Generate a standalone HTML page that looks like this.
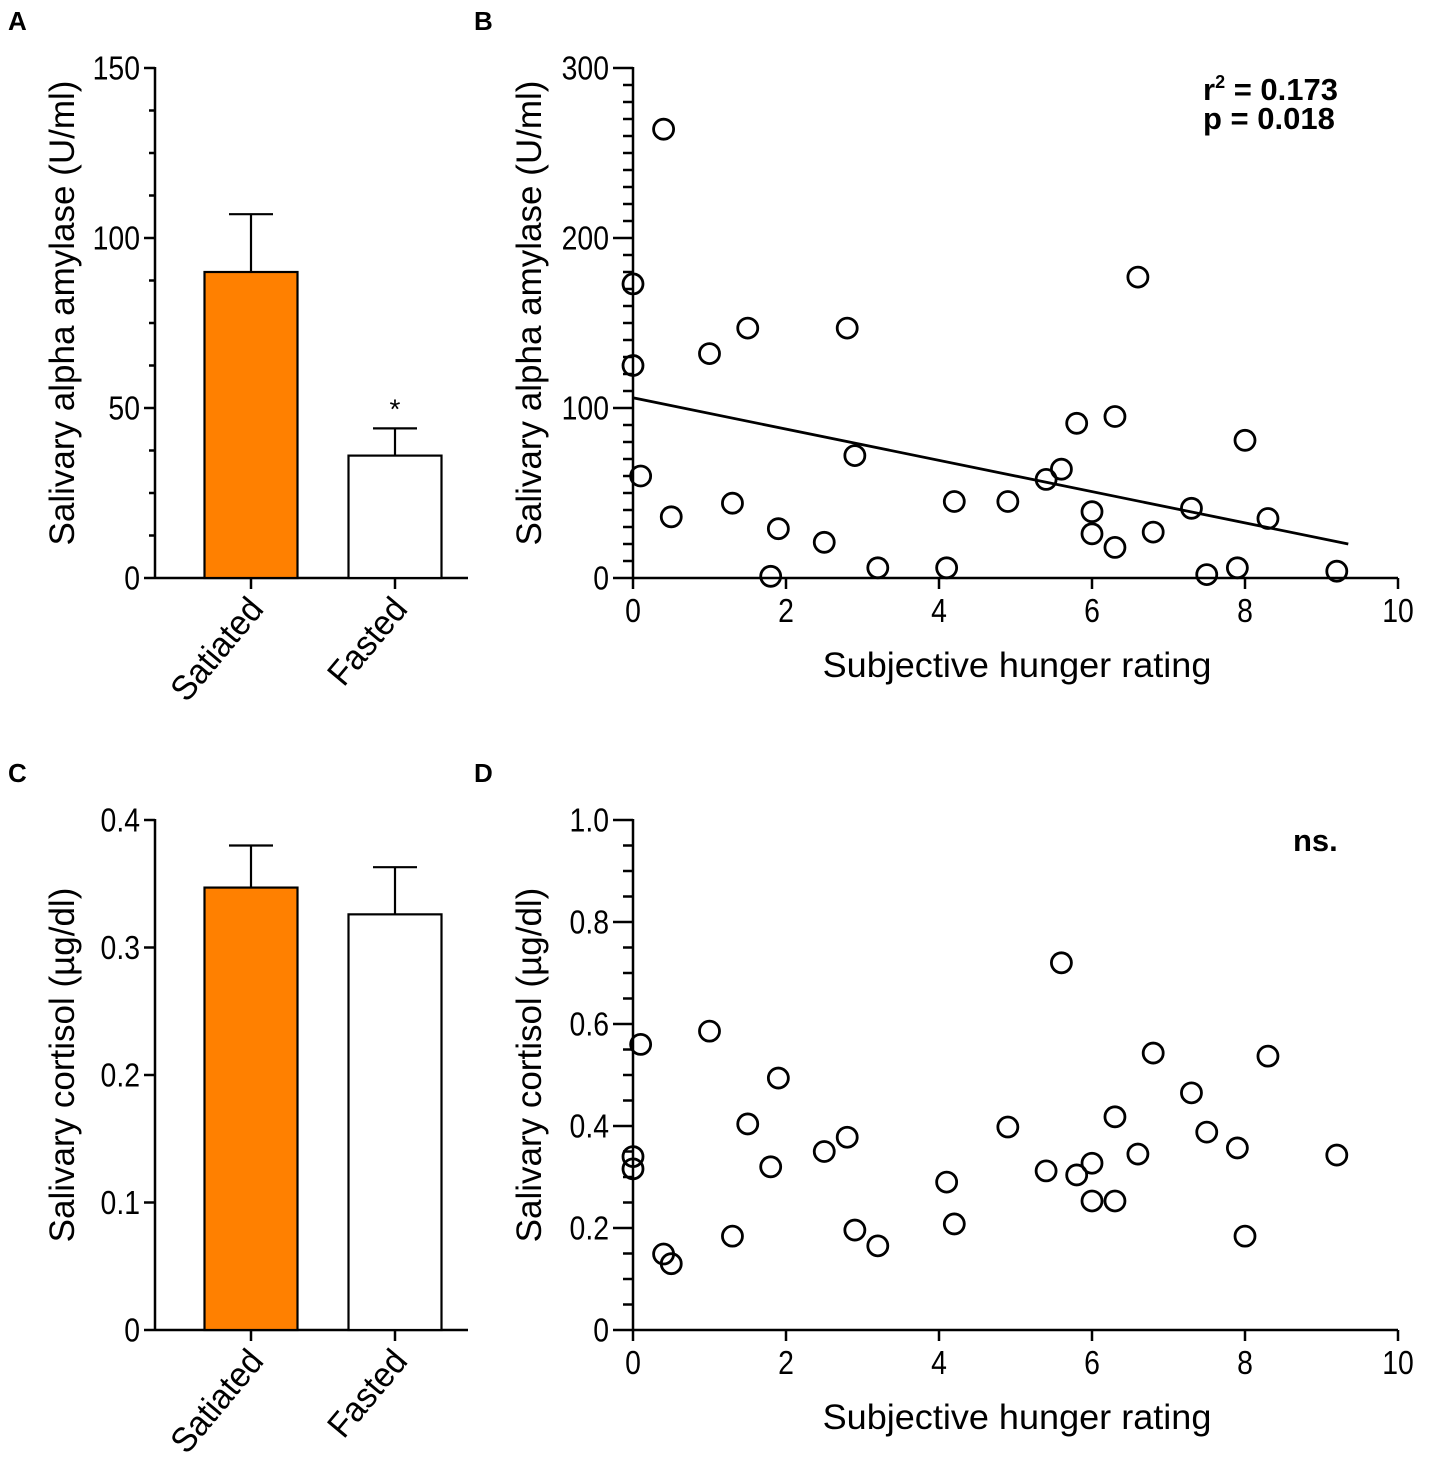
<!DOCTYPE html>
<html><head><meta charset="utf-8"><style>
body{margin:0;background:#fff}
svg{display:block;font-family:"Liberation Sans",Arial,sans-serif}
</style></head><body>
<svg id="fig" width="1430" height="1480" viewBox="0 0 1430 1480" xmlns="http://www.w3.org/2000/svg"></svg>
<script>
const barCategories = ["Satiated","Fasted"];
const amylaseMeans = [90, 36];
const amylaseErr = [107, 44];
const cortisolMeans = [0.347, 0.326];
const cortisolErr = [0.380, 0.363];
const hungerX = [0.4,0,0,0.1,0.5,1.0,1.3,1.5,1.9,1.8,2.5,2.8,2.9,3.2,4.1,4.2,4.9,5.4,5.6,5.8,6.0,6.0,6.3,6.3,6.6,6.8,7.3,7.5,7.9,8.0,8.3,9.2];
const amylaseY = [264,173,125,60,36,132,44,147,29,1,21,147,72,6,6,45,45,58,64,91,39,26,95,18,177,27,41,2,6,81,35,4];
const cortX = [0,0,0.1,0.4,0.5,1.0,1.3,1.5,1.8,1.9,2.5,2.8,2.9,3.2,4.1,4.2,4.9,5.4,5.6,5.8,6.0,6.0,6.3,6.3,6.6,6.8,7.3,7.5,7.9,8.0,8.3,9.2];
const cortY = [0.34,0.316,0.56,0.149,0.13,0.586,0.184,0.404,0.32,0.494,0.35,0.378,0.196,0.165,0.29,0.208,0.398,0.312,0.72,0.304,0.327,0.253,0.418,0.253,0.345,0.543,0.465,0.388,0.357,0.184,0.537,0.343];
const regLine = [106, 20];
const regX = [0, 9.35];
const amylaseTicks = [0,50,100,150];
const amylaseScatterTicks = [0,100,200,300];
const cortTicks = [0,0.1,0.2,0.3,0.4];
const cortScatterTicks = ["0","0.2","0.4","0.6","0.8","1.0"];
const xTicks = [0,2,4,6,8,10];

const NS="http://www.w3.org/2000/svg", svg=document.getElementById('fig');
function el(tag,attrs,parent,text){const e=document.createElementNS(NS,tag);for(const k in attrs)e.setAttribute(k,attrs[k]);if(text!==undefined)e.textContent=text;(parent||svg).appendChild(e);return e;}
function lin(d0,d1,r0,r1){return v=>r0+(v-d0)/(d1-d0)*(r1-r0);}
function squeeze(t,f){const w=t.getComputedTextLength();if(w>0){t.setAttribute('textLength',w*f);t.setAttribute('lengthAdjust','spacingAndGlyphs');}}

function yAxis(g,x,y0,y1,ymax,majors,labels,minorsPer,majLen,minLen){
  const s=lin(0,ymax,y0,y1);
  let a=el('line',{x1:x,y1:y0+1,x2:x,y2:y1-1,stroke:'#000','stroke-width':2.5},g);
  
  majors.forEach((v,i)=>{
    const y=s(v);
    el('line',{x1:x-majLen,y1:y,x2:x,y2:y,stroke:'#000','stroke-width':2.5},g);
    const t=el('text',{x:x-majLen-4,y:y+11.5,'font-size':33,'text-anchor':'end'},g,labels[i]);
    
    squeeze(t,0.86);
    if(i<majors.length-1&&minorsPer>1){const step=(majors[i+1]-v)/minorsPer;for(let k=1;k<minorsPer;k++){const yy=s(v+k*step);el('line',{x1:x-minLen,y1:yy,x2:x,y2:yy,stroke:'#000','stroke-width':2.5},g);}}
  });
  return s;
}
function yTitle(g,x,cy,txt){const t=el('text',{x:x,y:cy,'font-size':35,'text-anchor':'middle',transform:`rotate(-90 ${x} ${cy})`},g,txt);squeeze(t,1.0);}
function panelLabel(x,y,t){const e=el('text',{x:x,y:y,'font-size':26,'font-weight':'bold'},svg,t);}

function barPanel(top,ymax,majors,labels,minors,means,errs,title,sig,name){
  const g=el('g',{});
  const y0=top+510,x0=155;
  const s=yAxis(g,x0,y0,top,ymax,majors,labels,minors,11,6);
  let xa=el('line',{x1:x0,y1:y0,x2:468,y2:y0,stroke:'#000','stroke-width':2.5},g);
  
  const cx=[251,395];
  means.forEach((m,i)=>{
    el('line',{x1:cx[i],y1:s(m),x2:cx[i],y2:s(errs[i]),stroke:'#000','stroke-width':2.2},g);
    el('line',{x1:cx[i]-22,y1:s(errs[i]),x2:cx[i]+22,y2:s(errs[i]),stroke:'#000','stroke-width':2.2},g);
    const r=el('rect',{x:cx[i]-46.5,y:s(m),width:93,height:y0-s(m),fill:i==0?'#FF8000':'#fff',stroke:'#000','stroke-width':2.2},g);
    
    el('line',{x1:cx[i],y1:y0,x2:cx[i],y2:y0+11,stroke:'#000','stroke-width':2.5},g);
    const t=el('text',{x:cx[i]+14,y:y0+32,'font-size':35,'text-anchor':'end',transform:`rotate(-50 ${cx[i]+14} ${y0+32})`},g,barCategories[i]);
    
    squeeze(t,0.95);
  });
  if(sig){const t=el('text',{x:cx[1],y:s(errs[1])-10,'font-size':28,'text-anchor':'middle'},g,'*');}
  yTitle(g,74,top+245,title);
}

function scatterPanel(top,ymax,majors,labels,minors,xs,ys,title,name){
  const g=el('g',{});
  const y0=top+510,x0=633;
  const sy=yAxis(g,x0,y0,top,ymax,majors,labels,minors,20,10);
  const sx=lin(0,10,x0,1398);
  let xa=el('line',{x1:x0-1,y1:y0,x2:1398,y2:y0,stroke:'#000','stroke-width':2.5},g);
  
  xTicks.forEach(v=>{const x=sx(v);el('line',{x1:x,y1:y0,x2:x,y2:y0+11,stroke:'#000','stroke-width':2.5},g);
    const t=el('text',{x:x,y:y0+44,'font-size':33,'text-anchor':'middle'},g,String(v));squeeze(t,0.86);});
  const xt=el('text',{x:1017,y:y0+99,'font-size':35,'text-anchor':'middle'},g,'Subjective hunger rating');
  
  squeeze(xt,1.03);
  yTitle(g,541,top+245,title);
  xs.forEach((x,i)=>{const c=el('circle',{cx:sx(x),cy:sy(ys[i]),r:10,fill:'none',stroke:'#000','stroke-width':2.8},g);
    });
  return {g,sx,sy};
}

panelLabel(8,30,'A');panelLabel(474,30,'B');panelLabel(8,782,'C');panelLabel(474,782,'D');
barPanel(68,150,amylaseTicks,amylaseTicks.map(String),4,amylaseMeans,amylaseErr,'Salivary alpha amylase (U/ml)',true,'panel-a');
barPanel(820,0.4,cortTicks,cortTicks.map(v=>v===0?'0':v.toFixed(1)),1,cortisolMeans,cortisolErr,'Salivary cortisol (µg/dl)',false,'panel-c');
const B=scatterPanel(68,300,amylaseScatterTicks,amylaseScatterTicks.map(String),10,hungerX,amylaseY,'Salivary alpha amylase (U/ml)','panel-b');
const rl=el('line',{x1:B.sx(regX[0]),y1:B.sy(regLine[0]),x2:B.sx(regX[1]),y2:B.sy(regLine[1]),stroke:'#000','stroke-width':2.8},B.g);

const st=el('text',{x:1203,y:100,'font-size':31,'font-weight':'bold'},B.g);

st.innerHTML='r<tspan font-size="18" dy="-12">2</tspan><tspan dy="12"> = 0.173</tspan>';
const st2=el('text',{x:1203,y:129,'font-size':31,'font-weight':'bold'},B.g,'p  = 0.018');

const D=scatterPanel(820,1.0,[0,0.2,0.4,0.6,0.8,1.0],cortScatterTicks,4,cortX,cortY,'Salivary cortisol (µg/dl)','panel-d');
const ns=el('text',{x:1293,y:851,'font-size':31,'font-weight':'bold'},D.g,'ns.');

</script>
</body></html>
